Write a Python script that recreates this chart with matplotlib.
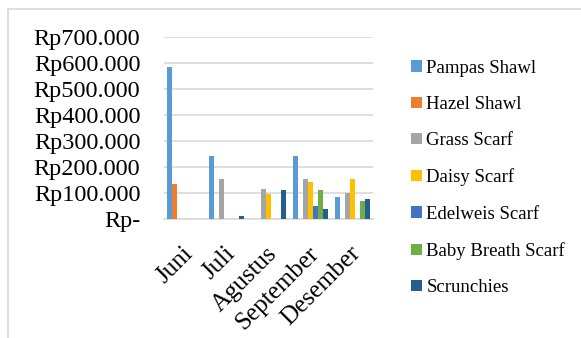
import matplotlib.pyplot as plt
from matplotlib.lines import Line2D
from matplotlib.patches import Patch
import numpy as np

months = ["Juni", "Juli", "Agustus", "September", "Desember"]
products = ["Pampas Shawl", "Hazel Shawl", "Grass Scarf", "Daisy Scarf",
            "Edelweis Scarf", "Baby Breath Scarf", "Scrunchies"]

pampas_shawl = [585000, 242000, 0, 242000, 83000]
hazel_shawl = [133000, 0, 0, 0, 0]
grass_scarf = [0, 154000, 114000, 154000, 100000]
daisy_scarf = [0, 0, 95000, 141000, 154000]
edelweis_scarf = [0, 0, 0, 49000, 0]
baby_breath_scarf = [0, 0, 0, 109000, 69000]
scrunchies = [0, 11000, 110000, 36000, 74000]

series = [pampas_shawl, hazel_shawl, grass_scarf, daisy_scarf,
          edelweis_scarf, baby_breath_scarf, scrunchies]
colors = ["#5B9BD5", "#ED7D31", "#A5A5A5", "#FFC000",
          "#4472C4", "#70AD47", "#255E91"]

y_ticks = [0, 100000, 200000, 300000, 400000, 500000, 600000, 700000]

plt.rcParams["font.family"] = ["Liberation Serif", "DejaVu Serif"]

fig = plt.figure(figsize=(5.81, 3.38), dpi=100)
ax = fig.add_axes([0.2823, 0.353, 0.3597, 0.5384])

x = np.arange(len(months))
bar_w = 0.12
for i, (vals, col) in enumerate(zip(series, colors)):
    ax.bar(x + (i - 3) * bar_w, vals, width=bar_w, color=col, zorder=3)

ax.set_xlim(-0.5, len(months) - 0.5)
ax.set_ylim(0, 700000)
ax.set_yticks(y_ticks)
ax.set_yticklabels(["Rp-"] + [f"Rp{v:,}".replace(",", ".") for v in y_ticks[1:]],
                   fontsize=17.5)
ax.yaxis.grid(True, color="#D9D9D9", linewidth=1.2, zorder=0)
ax.tick_params(axis="both", length=0)
ax.tick_params(axis="y", pad=17)
for side in ["top", "right", "left"]:
    ax.spines[side].set_visible(False)
ax.spines["bottom"].set_color("#D9D9D9")
ax.spines["bottom"].set_linewidth(1.2)

ax.set_xticks(x - 0.06)
ax.set_xticklabels(months, fontsize=18, rotation=45, ha="right",
                   va="top", rotation_mode="anchor")
ax.tick_params(axis="x", pad=17)

handles = [Patch(facecolor=c, edgecolor="none") for c in colors]
fig.legend(handles, products, loc="upper left",
           bbox_to_anchor=(0.695, 0.846), frameon=False, fontsize=13.5,
           handlelength=0.55, handleheight=0.55, handletextpad=0.25,
           labelspacing=1.03, borderaxespad=0)

# chart border (top and left edges)
fig.add_artist(Line2D([8 / 581, 1], [1 - 9 / 338, 1 - 9 / 338],
                      transform=fig.transFigure, color="#D9D9D9", lw=1.2))
fig.add_artist(Line2D([8 / 581, 8 / 581], [0, 1 - 9 / 338],
                      transform=fig.transFigure, color="#D9D9D9", lw=1.2))

fig.savefig("out.png", dpi=100)
